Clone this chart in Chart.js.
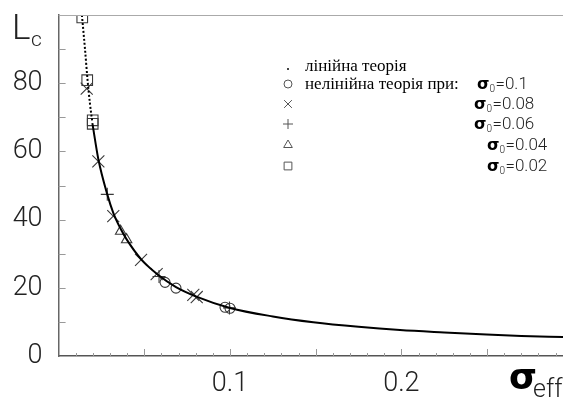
<!DOCTYPE html>
<html>
<head>
<meta charset="utf-8">
<script src="https://cdn.jsdelivr.net/npm/chart.js@4/dist/chart.umd.min.js"></script>
<style>
  body { margin: 0; background: #fff; }
  #wrap { width: 563px; height: 398px; }
</style>
</head>
<body>
<div id="wrap"><canvas id="myChart" width="563" height="398"></canvas></div>
<script>
// linear theory (dotted part near the top, then solid)
const sigmaDotted = [0.0136, 0.0154, 0.0169, 0.0183, 0.0197];
const lcDotted = [100, 90, 80.9, 74, 68.5];
const sigmaSolid = [0.0197, 0.0232, 0.0284, 0.0319, 0.0362, 0.0397, 0.0481, 0.058, 0.0685, 0.08, 0.1, 0.125, 0.1486, 0.175, 0.1992, 0.225, 0.2497, 0.27, 0.2943];
const lcSolid = [68.3, 57.7, 47.4, 42.0, 37.3, 34.2, 28.4, 23.8, 20.2, 17.5, 14.1, 11.6, 9.9, 8.55, 7.6, 6.9, 6.3, 5.9, 5.55];

// nonlinear theory, one list per sigma0
const sigma01 = [0.0621, 0.0685, 0.0971, 0.1];
const lc01 = [21.6, 19.9, 14.3, 14.0];
const sigma008 = [0.0164, 0.0232, 0.0319, 0.0481, 0.0572, 0.0786, 0.0806];
const lc008 = [78.4, 57.1, 41.0, 28.2, 24.0, 17.9, 17.3];
const sigma006 = [0.0284, 0.0586, 0.0997];
const lc006 = [47.4, 23.3, 14.1];
const sigma004 = [0.0362, 0.0397];
const lc004 = [36.6, 34.1];
const sigma002 = [0.0138, 0.0167, 0.0199, 0.0199];
const lc002 = [99.3, 80.9, 69.1, 68.1];

const yTickLabels = ['0', '20', '40', '60', '80'];
const xTickLabels = ['0.1', '0.2'];

const legendRows = [
    { style: 'dot', text: 'лінійна теорія', s0: '' },
    { style: 'circle', text: 'нелінійна теорія при:', s0: '0.1' },
    { style: 'crossRot', text: '', s0: '0.08' },
    { style: 'cross', text: '', s0: '0.06' },
    { style: 'triangle', text: '', s0: '0.04' },
    { style: 'rect', text: '', s0: '0.02' }
];

const pts = (xs, ys) => xs.map((x, i) => ({ x: x, y: ys[i] }));

const markerColor = '#3a3a3a';

function markerSet(label, xs, ys, style, radius) {
    return {
        label: label,
        data: pts(xs, ys),
        showLine: false,
        pointStyle: style,
        pointRadius: radius,
        pointBorderColor: markerColor,
        pointBackgroundColor: 'rgba(0,0,0,0)',
        pointBorderWidth: 1.1
    };
}

// inward tick marks, top frame line, axis titles and the legend
const decorPlugin = {
    id: 'decor',
    afterDraw(chart) {
        const ctx = chart.ctx;
        const area = chart.chartArea;
        const xs = chart.scales.x;
        const ys = chart.scales.y;
        ctx.save();

        // top frame line
        ctx.strokeStyle = '#aaa';
        ctx.lineWidth = 1;
        ctx.beginPath();
        ctx.moveTo(area.left, Math.round(area.top) + 0.5);
        ctx.lineTo(area.right, Math.round(area.top) + 0.5);
        ctx.stroke();

        // y ticks every 10, pointing inwards
        ctx.strokeStyle = '#999';
        for (let v = 10; v <= 90; v += 10) {
            const py = Math.round(ys.getPixelForValue(v)) + 0.5;
            ctx.beginPath();
            ctx.moveTo(area.left, py);
            ctx.lineTo(area.left + 7, py);
            ctx.stroke();
        }
        // x ticks every 0.01, longer every 0.05
        for (let i = 1; i <= 29; i++) {
            const px = Math.round(xs.getPixelForValue(i / 100)) + 0.5;
            const len = (i % 5 === 0) ? 7 : 3;
            ctx.beginPath();
            ctx.moveTo(px, area.bottom);
            ctx.lineTo(px, area.bottom - len);
            ctx.stroke();
        }

        // axis titles
        ctx.fillStyle = '#222';
        ctx.textBaseline = 'alphabetic';
        ctx.textAlign = 'left';
        ctx.font = '300 35px Roboto, "Liberation Sans", sans-serif';
        ctx.fillText('L', 12, 39);
        ctx.font = '300 21px Roboto, "Liberation Sans", sans-serif';
        ctx.fillText('c', 31, 46);

        ctx.fillStyle = '#000';
        ctx.font = 'bold 36px "DejaVu Sans", sans-serif';
        ctx.fillText('σ', 509, 389);
        ctx.fillStyle = '#222';
        ctx.font = '300 25px Roboto, "Liberation Sans", sans-serif';
        ctx.fillText('eff', 533, 397);

        // legend
        const rowY = [66, 84, 104, 124, 145, 166];
        const s0X = [0, 477, 474, 474, 487, 487];
        const radius = { circle: 4, crossRot: 5.5, cross: 5, triangle: 5, rect: 5.5 };
        legendRows.forEach((row, i) => {
            const cy = rowY[i];
            ctx.strokeStyle = '#555';
            ctx.lineWidth = 1;
            if (row.style === 'dot') {
                ctx.fillStyle = '#444';
                ctx.fillRect(287, cy + 2, 2, 2);
            } else {
                ctx.fillStyle = 'rgba(0,0,0,0)';
                Chart.helpers.drawPoint(ctx, {
                    pointStyle: row.style,
                    radius: radius[row.style],
                    rotation: 0,
                    borderWidth: 1
                }, 288, cy);
            }
            if (row.text) {
                ctx.fillStyle = '#000';
                ctx.font = '17px "Liberation Serif", "Times New Roman", serif';
                ctx.fillText(row.text, 305, cy + 5);
            }
            if (row.s0) {
                let x = s0X[i];
                ctx.fillStyle = '#000';
                ctx.font = 'bold 16px "DejaVu Sans", sans-serif';
                ctx.fillText('σ', x, cy + 5);
                x += ctx.measureText('σ').width;
                ctx.fillStyle = '#222';
                ctx.font = '300 10px Roboto, "Liberation Sans", sans-serif';
                ctx.fillText('0', x, cy + 8);
                x += ctx.measureText('0').width + 0.5;
                ctx.font = '300 17px Roboto, "Liberation Sans", sans-serif';
                ctx.fillText('=' + row.s0, x, cy + 5);
            }
        });
        ctx.restore();
    }
};

const ctx = document.getElementById('myChart').getContext('2d');
const chart = new Chart(ctx, {
    type: 'scatter',
    data: {
        datasets: [
            {
                label: 'linear dotted',
                data: pts(sigmaDotted, lcDotted),
                showLine: true,
                borderColor: '#000',
                borderWidth: 2,
                borderDash: [2, 2],
                pointRadius: 0,
                cubicInterpolationMode: 'monotone'
            },
            {
                label: 'linear',
                data: pts(sigmaSolid, lcSolid),
                showLine: true,
                borderColor: '#000',
                borderWidth: 2,
                pointRadius: 0,
                cubicInterpolationMode: 'monotone'
            },
            markerSet('0.1', sigma01, lc01, 'circle', 5),
            markerSet('0.08', sigma008, lc008, 'crossRot', 8.5),
            markerSet('0.06', sigma006, lc006, 'cross', 6.5),
            markerSet('0.04', sigma004, lc004, 'triangle', 6),
            markerSet('0.02', sigma002, lc002, 'rect', 7.5)
        ]
    },
    options: {
        responsive: false,
        animation: false,
        devicePixelRatio: 1,
        layout: { autoPadding: false, padding: { top: 15, right: 0, left: 0, bottom: 0 } },
        plugins: {
            legend: { display: false },
            tooltip: { enabled: false }
        },
        scales: {
            x: {
                type: 'linear',
                min: 0,
                max: 0.2943,
                afterFit: scale => {
                    scale.height = 42;
                    scale.paddingLeft = 0;
                    scale.paddingRight = 0;
                },
                grid: { display: false, drawTicks: false },
                border: { display: true, color: '#555', width: 1.5 },
                ticks: {
                    stepSize: 0.01,
                    autoSkip: false,
                    maxRotation: 0,
                    padding: 12,
                    color: '#222',
                    font: { family: 'Roboto, "Liberation Sans", sans-serif', size: 27, weight: '300' },
                    callback: function(value) {
                        const hit = xTickLabels.find(t => Math.abs(parseFloat(t) - value) < 1e-6);
                        return hit || null;
                    }
                }
            },
            y: {
                type: 'linear',
                min: 0,
                max: 100,
                afterFit: scale => {
                    scale.width = 58.6;
                    scale.paddingTop = 0;
                    scale.paddingBottom = 0;
                },
                grid: { display: false, drawTicks: false },
                border: { display: true, color: '#666', width: 1.5 },
                ticks: {
                    stepSize: 20,
                    padding: 16,
                    color: '#222',
                    font: { family: 'Roboto, "Liberation Sans", sans-serif', size: 27, weight: '300' },
                    callback: function(value) {
                        return yTickLabels.includes(String(value)) ? String(value) : null;
                    }
                }
            }
        }
    },
    plugins: [decorPlugin]
});
</script>
</body>
</html>
